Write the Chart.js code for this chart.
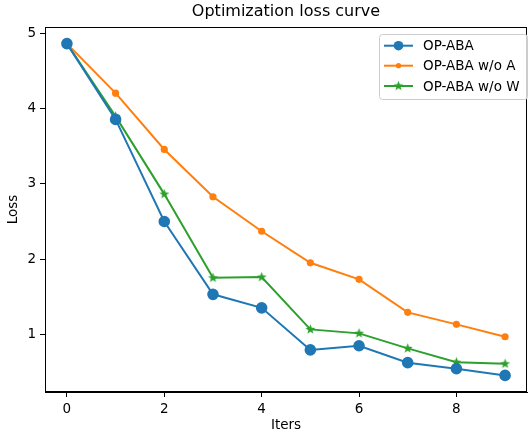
<!DOCTYPE html>
<html lang="en">
<head>
    <meta charset="UTF-8">
    <title>Optimization loss curve</title>
    <script src="https://cdn.jsdelivr.net/npm/chart.js@4.4.1/dist/chart.umd.min.js"></script>
    <style>
        html, body { margin: 0; padding: 0; background: #fff; }
        #caixa { width: 530px; height: 434px; overflow: hidden; }
    </style>
</head>
<body>
    <div id="caixa">
        <canvas id="graficoLoss" width="534" height="434"></canvas>
    </div>

<script>
    // dados
    var iters = [0, 1, 2, 3, 4, 5, 6, 7, 8, 9]
    var opAba = [4.87, 3.86, 2.50, 1.53, 1.35, 0.79, 0.845, 0.62, 0.54, 0.45]
    var semA = [4.87, 4.21, 3.46, 2.83, 2.37, 1.95, 1.73, 1.29, 1.13, 0.965]
    var semW = [4.87, 3.90, 2.865, 1.75, 1.76, 1.063, 1.01, 0.81, 0.626, 0.605]
    var nomes = ['OP-ABA', 'OP-ABA w/o A', 'OP-ABA w/o W']
    var ticksX = [0, 2, 4, 6, 8]
    var ticksY = [1, 2, 3, 4, 5]

    var fonte = 'DejaVu Sans'

    // estrela preenchida tipo matplotlib
    function estrela(cor, r) {
        var c = document.createElement('canvas')
        var s = Math.ceil(r * 2 + 2)
        c.width = s
        c.height = s
        var ctx = c.getContext('2d')
        ctx.beginPath()
        for (var i = 0; i < 10; i++) {
            var raio = i % 2 == 0 ? r : r * 0.42
            var ang = -Math.PI / 2 + i * Math.PI / 5
            var px = s / 2 + raio * Math.cos(ang)
            var py = s / 2 + raio * Math.sin(ang)
            if (i == 0) ctx.moveTo(px, py)
            else ctx.lineTo(px, py)
        }
        ctx.closePath()
        ctx.fillStyle = cor
        ctx.fill()
        return c
    }

    var star = estrela('#2ca02c', 5.2)

    function pontos(vals) {
        return vals.map(function (v, i) { return { x: iters[i], y: v } })
    }

    const molduraPlugin = {
        id: 'moldura',
        afterDraw(chart) {
            const ctx = chart.ctx
            const a = chart.chartArea
            ctx.save()
            ctx.strokeStyle = '#000'
            ctx.lineWidth = 1
            ctx.strokeRect(a.left + 0.5, a.top + 0.5, a.right - a.left - 1, a.bottom - a.top - 1)

            // titulo
            ctx.fillStyle = '#000'
            ctx.font = '16px "' + fonte + '"'
            ctx.textAlign = 'center'
            ctx.textBaseline = 'middle'
            ctx.fillText('Optimization loss curve', (a.left + a.right) / 2, 12)

            // legenda
            var lx = 379, ly = 34, lw = 148, lh = 65
            ctx.beginPath()
            ctx.roundRect(lx + 0.5, ly + 0.5, lw, lh, 3)
            ctx.fillStyle = 'rgba(255,255,255,0.8)'
            ctx.fill()
            ctx.strokeStyle = '#cccccc'
            ctx.stroke()

            var linhasY = [45.7, 65.7, 86]
            chart.data.datasets.forEach(function (ds, i) {
                var y = linhasY[i]
                ctx.strokeStyle = ds.borderColor
                ctx.lineWidth = 2
                ctx.beginPath()
                ctx.moveTo(384, y)
                ctx.lineTo(413, y)
                ctx.stroke()
                if (ds.pointStyle == 'circle') {
                    ctx.fillStyle = ds.borderColor
                    ctx.beginPath()
                    ctx.arc(398.5, y, ds.pointRadius, 0, Math.PI * 2)
                    ctx.fill()
                } else {
                    ctx.drawImage(ds.pointStyle, 398.5 - ds.pointStyle.width / 2, y - ds.pointStyle.height / 2)
                }
                ctx.fillStyle = '#000'
                ctx.font = '13.5px "' + fonte + '"'
                ctx.textAlign = 'left'
                ctx.textBaseline = 'middle'
                ctx.fillText(nomes[i], 423, y + 1)
            })
            ctx.restore()
        }
    }

    const config = {
        type: 'line',
        data: {
            datasets: [{
                label: nomes[0],
                data: pontos(opAba),
                borderColor: '#1f77b4',
                backgroundColor: '#1f77b4',
                pointStyle: 'circle',
                pointRadius: 4.8,
                borderWidth: 2
            }, {
                label: nomes[1],
                data: pontos(semA),
                borderColor: '#ff7f0e',
                backgroundColor: '#ff7f0e',
                pointStyle: 'circle',
                pointRadius: 2.6,
                borderWidth: 2
            }, {
                label: nomes[2],
                data: pontos(semW),
                borderColor: '#2ca02c',
                backgroundColor: '#2ca02c',
                pointStyle: star,
                pointRadius: 5,
                borderWidth: 2
            }]
        },
        options: {
            responsive: false,
            animation: false,
            events: [],
            layout: { padding: { top: 27, right: 0, bottom: 0, left: 0 } },
            elements: {
                line: { tension: 0 },
                point: { borderWidth: 0, hoverRadius: 0 }
            },
            plugins: {
                legend: { display: false },
                title: { display: false },
                tooltip: { enabled: false }
            },
            scales: {
                x: {
                    type: 'linear',
                    min: -0.45,
                    max: 9.45,
                    afterBuildTicks: function (s) { s.ticks = ticksX.map(function (v) { return { value: v } }) },
                    afterFit: function (s) { s.height = 42 },
                    grid: { drawOnChartArea: false, drawTicks: true, tickLength: 5, tickColor: '#000' },
                    border: { display: true, color: '#000', width: 1 },
                    ticks: { color: '#000', padding: 4, font: { family: fonte, size: 13.5 }, maxRotation: 0 },
                    title: { display: true, text: 'Iters', color: '#000', font: { family: fonte, size: 13.5 }, padding: { top: 0, bottom: 0 } }
                },
                y: {
                    type: 'linear',
                    min: 0.229,
                    max: 5.091,
                    afterBuildTicks: function (s) { s.ticks = ticksY.map(function (v) { return { value: v } }) },
                    afterFit: function (s) { s.width = 45 },
                    grid: { drawOnChartArea: false, drawTicks: true, tickLength: 5, tickColor: '#000' },
                    border: { display: true, color: '#000', width: 1 },
                    ticks: { color: '#000', padding: 4, font: { family: fonte, size: 13.5 } },
                    title: { display: true, text: 'Loss', color: '#000', font: { family: fonte, size: 13.5 }, padding: { top: 5, bottom: 0 } }
                }
            }
        },
        plugins: [molduraPlugin]
    }

    const graficoLoss = new Chart(document.getElementById('graficoLoss'), config)
</script>
</body>
</html>
